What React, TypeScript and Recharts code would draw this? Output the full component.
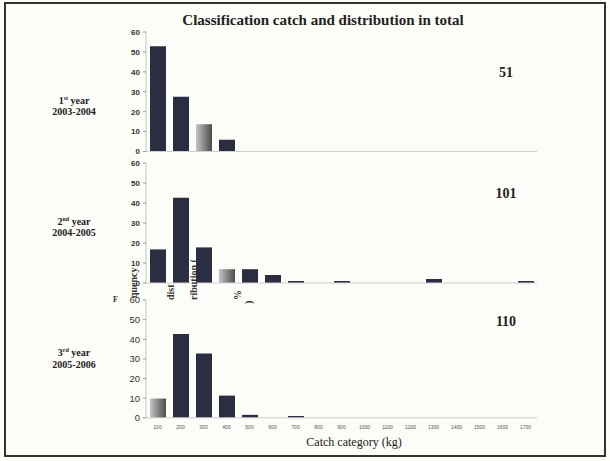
import { BarChart, Bar, XAxis, YAxis, Cell } from "recharts";

const categories = ["100", "200", "300", "400", "500", "600", "700", "800", "900", "1000", "1100", "1200", "1300", "1400", "1500", "1600", "1700"];
const year1 = [52.9, 27.5, 13.7, 5.9, 0, 0, 0, 0, 0, 0, 0, 0, 0, 0, 0, 0, 0];
const year2 = [16.8, 42.6, 17.8, 6.9, 6.9, 4.0, 1.0, 0, 1.0, 0, 0, 0, 2.0, 0, 0, 0, 1.0];
const year3 = [9.8, 42.7, 32.7, 11.3, 1.5, 0, 0.9, 0, 0, 0, 0, 0, 0, 0, 0, 0, 0];
const yTicks = [0, 10, 20, 30, 40, 50, 60];
const totals = ["51", "101", "110"];
const yearOrd = [["1", "st"], ["2", "nd"], ["3", "rd"]];
const seasons = ["2003-2004", "2004-2005", "2005-2006"];

const DARK = "#2a2e40";
const SERIF = "'Liberation Serif', 'Times New Roman', serif";
const SANS = "'Liberation Sans Narrow', 'Liberation Sans', Arial, sans-serif";

type PanelProps = {
  values: number[];
  plotTop: number;
  plotBottom: number;
  shaded: number;
  showX?: boolean;
  tickFont: { fontSize: number; fontWeight: number | string };
};

function Panel({ values, plotTop, plotBottom, shaded, showX, tickFont }: PanelProps) {
  const rows = categories.map((c, i) => ({ cat: c, v: values[i] }));
  const xH = showX ? 14 : 1;
  const pad = 8;
  const bottom = 8;
  const h = plotBottom - plotTop + pad + xH + bottom;
  return (
    <div style={{ position: "absolute", left: 0, top: plotTop - pad }}>
      <BarChart width={610} height={h} data={rows} margin={{ top: pad, right: 73, bottom, left: 106 }} barSize={16}>
        <XAxis
          dataKey="cat"
          interval={0}
          height={xH}
          axisLine={{ stroke: "#cfcfcf" }}
          tickLine={false}
          tickSize={6}
          tickMargin={2}
          tick={showX ? { fontSize: 5, fill: "#555", fontFamily: SANS } : false}
        />
        <YAxis
          width={40}
          domain={[0, 60]}
          ticks={yTicks}
          interval={0}
          axisLine={{ stroke: "#c8c8c8" }}
          tickLine={{ stroke: "#999" }}
          tickSize={3}
          tickMargin={3}
          tick={{ fill: "#333", fontFamily: SANS, ...tickFont }}
        />
        <Bar dataKey="v" isAnimationActive={false}>
          {rows.map((r, i) => (
            <Cell key={r.cat} fill={i === shaded ? "url(#grayBar)" : DARK} />
          ))}
        </Bar>
      </BarChart>
    </div>
  );
}

export default function App() {
  const labelY = [[101, 112], [222, 233], [353, 365]];
  const totalY = [77, 198, 326];
  return (
    <div style={{ position: "absolute", left: 0, top: 0, width: 610, height: 461, background: "#fcfcf8" }}>
      <svg width={0} height={0} style={{ position: "absolute" }}>
        <defs>
          <linearGradient id="grayBar" x1="0" y1="0" x2="1" y2="0">
            <stop offset="0%" stopColor="#c4c4c4" />
            <stop offset="100%" stopColor="#4c4c4c" />
          </linearGradient>
        </defs>
      </svg>

      <Panel values={year1} plotTop={32} plotBottom={151.5} shaded={2} tickFont={{ fontSize: 8, fontWeight: "bold" }} />
      <Panel values={year2} plotTop={163} plotBottom={283} shaded={3} tickFont={{ fontSize: 8, fontWeight: "bold" }} />
      <Panel values={year3} plotTop={299.5} plotBottom={417.3} shaded={0} showX tickFont={{ fontSize: 9.5, fontWeight: "normal" }} />

      <svg width={610} height={461} style={{ position: "absolute", left: 0, top: 0, pointerEvents: "none" }}>
        <rect x={5} y={3} width={600} height={453} fill="none" stroke="#333" strokeWidth={2} />
        <text x={323} y={25} textAnchor="middle" fontFamily={SERIF} fontWeight="bold" fontSize={15} fill="#222">
          Classification catch and distribution in total
        </text>

        {seasons.map((s, i) => (
          <g key={s} fontFamily={SERIF} fontWeight="bold" fontSize={10} fill="#222" textAnchor="middle">
            <text x={74} y={labelY[i][0] + 3}>
              <tspan>{yearOrd[i][0]}</tspan>
              <tspan fontSize={6} dy={-4}>{yearOrd[i][1]}</tspan>
              <tspan dy={4}> year</tspan>
            </text>
            <text x={74} y={labelY[i][1] + 3}>{s}</text>
          </g>
        ))}

        {totals.map((t, i) => (
          <text key={t} x={506} y={totalY[i]} textAnchor="middle" fontFamily={SERIF} fontWeight="bold" fontSize={14} fill="#222">
            {t}
          </text>
        ))}

        <text x={354} y={446} textAnchor="middle" fontFamily={SERIF} fontSize={12} fill="#222">
          Catch category (kg)
        </text>

        {/* broken y-axis title from the scan */}
        <g fontFamily={SERIF} fontWeight="bold" fontSize={10} fill="#333">
          <text x={113} y={302} fontSize={8}>F</text>
          <text transform="translate(137,298) rotate(-90)">quency</text>
          <text transform="translate(174,300) rotate(-90)">dist</text>
          <text transform="translate(197,300) rotate(-90)">ribution (</text>
          <text transform="translate(241,300) rotate(-90)">%</text>
          <text transform="translate(252,304) rotate(-90)">)</text>
        </g>
      </svg>
    </div>
  );
}
